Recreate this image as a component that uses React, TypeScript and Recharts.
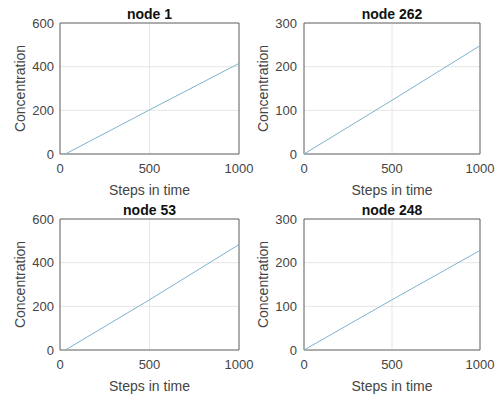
import React from "react";
import { LineChart, Line, XAxis, YAxis, CartesianGrid, ReferenceArea, Label } from "recharts";

const titles = ["node 1", "node 262", "node 53", "node 248"];
const xTicks = [0, 500, 1000];
const yTicksLarge = [0, 200, 400, 600];
const yTicksSmall = [0, 100, 200, 300];

const node1Steps = [30, 500, 1000];
const node1Values = [0, 202, 415];
const node262Steps = [0, 500, 1000];
const node262Values = [0, 123, 248];
const node53Steps = [30, 500, 1000];
const node53Values = [0, 230, 483];
const node248Steps = [0, 500, 1000];
const node248Values = [0, 115, 228];

const toRows = (steps: number[], values: number[]) => steps.map((s, i) => ({ step: s, value: values[i] }));

const FONT = "'Liberation Sans', Arial, Helvetica, sans-serif";
const TEXT = "#444444";

type PanelProps = {
  title: string;
  data: { step: number; value: number }[];
  yTicks: number[];
  left: number;
  top: number;
  width: number;
  yAxisWidth: number;
  rightMargin: number;
  yLabelX: number;
  tickMargin: number;
};

function Panel(p: PanelProps) {
  const yMax = p.yTicks[p.yTicks.length - 1];
  const plotLeft = p.yAxisWidth;
  const plotRight = p.width - p.rightMargin;
  return (
    <div style={{ position: "absolute", left: p.left, top: p.top, width: p.width, height: 198 }}>
      <div
        style={{
          position: "absolute",
          left: plotLeft,
          width: plotRight - plotLeft,
          top: 5,
          textAlign: "center",
          fontFamily: FONT,
          fontWeight: "bold",
          fontSize: 14,
          lineHeight: "18px",
          color: "#111",
        }}
      >
        {p.title}
      </div>
      <LineChart
        width={p.width}
        height={198}
        data={p.data}
        margin={{ top: 23, right: p.rightMargin, bottom: 0, left: 0 }}
        style={{ position: "absolute", left: 0, top: 0 }}
      >
        <CartesianGrid stroke="#e6e6e6" strokeWidth={1} horizontalValues={p.yTicks} verticalValues={xTicks} />
        <XAxis
          dataKey="step"
          type="number"
          domain={[0, 1000]}
          ticks={xTicks}
          height={44}
          tickLine={false}
          axisLine={false}
          tickMargin={4}
          tick={{ fill: TEXT, fontSize: 13, fontFamily: FONT }}
          interval={0}
        >
          <Label value="Steps in time" position="insideBottom" offset={3} fill={TEXT} fontSize={14} fontFamily={FONT} />
        </XAxis>
        <YAxis
          type="number"
          domain={[0, yMax]}
          ticks={p.yTicks}
          width={p.yAxisWidth}
          tickLine={false}
          axisLine={false}
          tickMargin={p.tickMargin}
          tick={{ fill: TEXT, fontSize: 13, fontFamily: FONT }}
          interval={0}
        >
          <Label
            content={(props: any) => {
              const vb = props.viewBox || { y: 23, height: 131 };
              const cy = vb.y + vb.height / 2;
              return (
                <text
                  x={p.yLabelX}
                  y={cy}
                  transform={`rotate(-90, ${p.yLabelX}, ${cy})`}
                  textAnchor="middle"
                  dominantBaseline="central"
                  fill={TEXT}
                  fontSize={14}
                  fontFamily={FONT}
                >
                  Concentration
                </text>
              );
            }}
          />
        </YAxis>
        <ReferenceArea x1={0} x2={1000} y1={0} y2={yMax} fill="none" stroke="#666666" strokeWidth={1} fillOpacity={0} ifOverflow="visible" />
        <Line
          type="linear"
          dataKey="value"
          stroke="#7db4cb"
          strokeWidth={1}
          dot={false}
          isAnimationActive={false}
        />
      </LineChart>
    </div>
  );
}

export default function App() {
  return (
    <div style={{ position: "absolute", left: 0, top: 0, width: 497, height: 396, background: "#fff", overflow: "hidden" }}>
      <Panel title={titles[0]} data={toRows(node1Steps, node1Values)} yTicks={yTicksLarge} left={0} top={0} width={260} yAxisWidth={60} rightMargin={21} yLabelX={20} tickMargin={0} />
      <Panel title={titles[1]} data={toRows(node262Steps, node262Values)} yTicks={yTicksSmall} left={248} top={0} width={249} yAxisWidth={56} rightMargin={17} yLabelX={15} tickMargin={1} />
      <Panel title={titles[2]} data={toRows(node53Steps, node53Values)} yTicks={yTicksLarge} left={0} top={196} width={260} yAxisWidth={60} rightMargin={21} yLabelX={20} tickMargin={0} />
      <Panel title={titles[3]} data={toRows(node248Steps, node248Values)} yTicks={yTicksSmall} left={248} top={196} width={249} yAxisWidth={56} rightMargin={17} yLabelX={15} tickMargin={1} />
    </div>
  );
}
